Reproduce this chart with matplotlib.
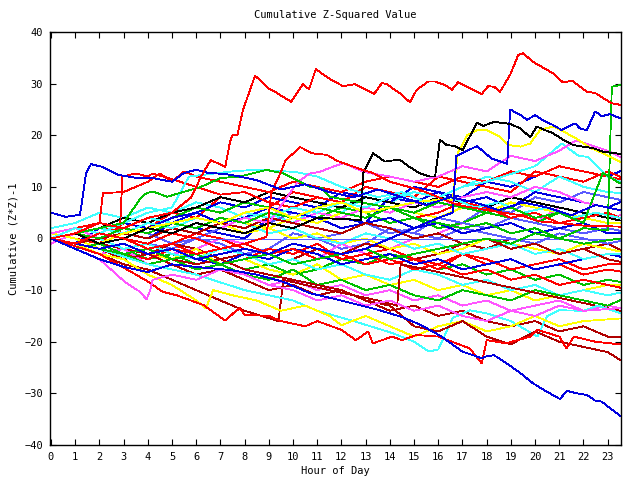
import matplotlib
matplotlib.use('Agg')
import matplotlib.pyplot as plt

# colours (gnuplot-ish palette)
RED = '#ff0000'
GREEN = '#00c000'
BLUE = '#0000e0'
MAGENTA = '#ff55ff'
CYAN = '#40ffff'
DRED = '#b00000'
YELLOW = '#ffff00'
BLACK = '#000000'
LBLUE = '#5a5aff'

# hourly grid used by the background walks
hours = list(range(24)) + [23.5]

# --- prominent walks (own time stamps) ---
red_top_x = [0, 1, 2, 3, 4, 5, 5.8, 6.2, 6.6, 7.2, 7.4, 7.5, 7.7, 7.93, 8.43, 8.64, 8.97, 9.26, 9.67, 9.92,
             10.41, 10.66, 10.94, 11.45, 12.07, 12.56, 12.89, 13.35, 13.67, 13.87, 14.42, 14.83, 15.11, 15.58,
             15.87, 16.28, 16.57, 16.82, 17.18, 17.52, 17.8, 18.06, 18.31, 18.55, 18.97, 19.3, 19.5, 19.92,
             20.41, 20.74, 21.16, 21.52, 22.14, 22.48, 22.81, 23.17, 23.51]
red_top_y = [0, 1, 3, 2, 4, 5, 8, 12, 15.2, 13.9, 18.8, 20, 20, 24.9, 31.5, 30.7, 29.1, 28.4, 27.2, 26.5,
             29.9, 28.9, 32.8, 31.1, 29.5, 29.9, 29.1, 28.0, 30.1, 29.9, 28.1, 26.4, 28.8, 30.4,
             30.4, 29.7, 28.8, 30.3, 29.4, 28.6, 28.0, 29.5, 29.4, 28.4, 31.7, 35.5, 35.9, 34.2,
             32.9, 32.0, 30.2, 30.6, 28.4, 28.2, 27.2, 26.2, 25.9]

blue_bottom_x = [0, 1, 2, 3, 4, 5, 6, 7.4, 8.5, 9.6, 10.7, 11.9, 13.5, 14.5, 15.3, 16.1, 17.0, 17.8, 18.0,
                 18.3, 18.8, 19.4, 19.9, 20.35, 21.03, 21.31, 21.72, 22.14, 22.48, 22.76, 23.1, 23.51]
blue_bottom_y = [0, -2, -4, -5.5, -6.5, -5, -5.5, -6.1, -7, -8.4, -10.6, -11.9, -13.8, -15.2, -16.8, -18.9,
                 -21.9, -23.2, -22.8, -22.6, -24.1, -26.1, -28.0, -29.3, -31.1, -29.5, -30.0, -30.3, -31.4,
                 -31.6, -32.9, -34.3]

blue_early_x = [0, 0.6, 1.2, 1.45, 1.65, 2.1, 2.8, 3.6, 4.2, 5, 5.5, 6, 6.5, 7.2, 7.8, 8.5, 9.5, 10.5, 11.5,
                12.5, 13.5, 14.5, 15.5, 16.5, 17.5, 18.5, 19.5, 20.5, 21.5, 22.5, 23.5]
blue_early_y = [5, 4.2, 4.6, 12.6, 14.4, 13.9, 12.3, 11.7, 11.7, 11, 12.7, 13.3, 12.7, 12.5, 12, 11.3, 9.5,
                10.5, 9, 8, 9.5, 8, 6.5, 8, 7, 5.5, 7, 6, 4.5, 6.5, 5.5]

red_second_x = [0, 1, 2, 3, 4, 5, 6, 7, 8, 8.9, 9.1, 9.5, 9.7, 10.3, 10.8, 11.4, 11.8, 12.2, 13.0, 13.3, 14,
                15.25, 16.8, 18.0, 19.4, 20.2, 21, 22, 23.5]
red_second_y = [0, -1, 1, 0, -2, -1, -3, -2, -1, 0.3, 8.8, 12.9, 15.2, 17.7, 16.5, 16.2, 15.1, 14.4, 13.1,
                12.7, 11, 9.4, 6.5, 5.5, 4.5, 3.3, 3, 2.5, 2.3]

black_top_x = [0, 1, 2, 3, 4, 5, 6, 7, 8, 9, 10, 11, 12.8, 12.9, 13.3, 13.8, 14.4, 14.8, 15.25, 15.66, 15.87,
               16.07, 16.35, 16.7, 17.0, 17.6, 17.86, 18.3, 18.97, 19.4, 19.8, 20.07, 20.4, 20.74, 21.16,
               21.57, 22.4, 22.81, 23.5]
black_top_y = [0, 1, -1, 0, 2, 1, 3, 2, 1, 3, 2, 4, 3.6, 12.6, 16.5, 14.9, 15.3, 13.9, 12.6, 12.0, 12.0,
               19.1, 18.1, 17.9, 17.1, 22.4, 21.8, 22.6, 22.2, 21.3, 19.6, 21.7, 21.0, 20.4, 19.1,
               18.1, 17.5, 16.8, 16.4]

blue_jump_x = [0, 1, 2, 3, 4, 5, 6, 7, 8, 9, 10, 11, 12, 13, 14, 15, 16, 16.6, 16.75, 17.6, 18.2, 18.85,
               18.97, 19.4, 19.67, 20.0, 20.35, 20.74, 21.1, 21.65, 21.86, 22.14, 22.48, 22.76, 23.1, 23.5]
blue_jump_y = [0, -1, -2, -1, -3, -2, -4, -3, -2, -3, -1, -2, -3, -2, 0, 2, 4, 5, 16, 17.9, 15.5, 14.5,
               25, 23.9, 23, 23.9, 22.8, 22, 21, 22.3, 21.3, 21, 24.6, 23.7, 24.1, 23.3]

yellow_up_x = [0, 1, 2, 3, 4, 5, 6, 7, 8, 9, 10, 11, 12, 13, 14, 15, 16, 16.6, 16.8, 17.2, 17.6, 18.0,
               18.55, 18.9, 19.4, 19.8, 20.2, 20.74, 21.3, 21.8, 22.3, 22.8, 23.5]
yellow_up_y = [0, 1, -1, 1, 2, 3, 4, 3, 5, 6, 4, 6, 7, 5, 6, 7, 7.5, 7.5, 16.5, 20, 21, 21,
               19.7, 18.1, 17.8, 18.4, 21, 21.7, 20.4, 19.1, 17.5, 16.5, 14.9]

green_end_x = hours[:23] + [23.0, 23.17, 23.5]
green_end_y = [0, -1, -2, -3, -2, -4, -3, -5, -4, -3, -5, -4, -3, -2, -4, -3, -2, -1, 0, -1, 1, 0, 2,
               1.6, 29.4, 29.7]

green_mid_x = [0, 1, 2, 3, 3.7, 3.95, 4.2, 4.8, 6.2, 7.0, 7.8, 8.9, 9.6, 10.7, 11.2, 11.5, 12.9, 14, 15,
               16, 17, 18, 19, 20, 21, 22, 23.5]
green_mid_y = [0, 1, 2, 3, 7.8, 8.8, 9.1, 8.1, 10, 11.7, 12, 13.3, 12.6, 10, 9.7, 8.1, 6.9, 6, 4, 3, 2, 3,
               1, 2, 0, -1, 0]

green_up2_x = hours[:23] + [22.8, 23.5]
green_up2_y = [0, 1, 0, 2, 1, 3, 2, 4, 3, 5, 4, 6, 5, 4, 6, 5, 7, 6, 5, 6, 4, 5, 3, 12.7, 10.7]

magenta_up_x = [0, 1, 2, 3, 4, 5, 6, 7, 8, 9, 10.2, 10.7, 11.1, 11.65, 12.1, 12.9, 14, 15, 16, 17, 18, 19,
                20, 21, 21.7, 23, 23.5]
magenta_up_y = [0, -1, 1, 0, 2, 1, 3, 2, 4, 3, 11, 12.6, 12.9, 13.9, 14.6, 12.9, 12, 11, 12, 14, 13, 16,
                15, 17, 19, 17, 15.8]

cyan_up_x = hours[:19] + [20, 21.1, 21.8, 22.2, 23, 23.5]
cyan_up_y = [0, 1, 2, 1, 3, 2, 4, 3, 5, 4, 6, 5, 7, 6, 8, 9, 8, 10, 11, 14, 18.4, 16, 15.8, 12, 11]

cyan_up2_x = [0, 1, 2, 3, 4, 5, 5.7, 7.5, 8.4, 10.1, 11, 12, 13.5, 14.5, 15.5, 16.5, 17.5, 18.5, 19.5,
              20.5, 21.5, 22.5, 23.5]
cyan_up2_y = [0, 2, 1, 3, 5, 6, 12, 13, 13.3, 12.9, 12, 10, 8, 9, 7, 8, 6, 7, 5, 6, 4, 5, 4]

red_a_x = [0, 1, 2, 2.85, 2.95, 3.5, 4, 4.2, 5, 6, 7, 8, 9, 10, 11, 12, 13, 14, 15, 16, 17, 18, 19, 20, 21,
           22, 23, 23.5]
red_a_y = [0, 1, 2, 1.5, 12, 12.6, 12, 12.6, 11.5, 10, 8.5, 9, 7, 6, 8, 7, 5, 6, 4, 5, 7, 6, 4, 5, 3, 4,
           5, 4]

red_b_x = [0, 1, 2, 2.15, 3, 4, 4.5, 5, 5.5, 6, 7, 8, 9, 10, 11, 12, 13, 14, 15, 16, 17, 18, 19, 20, 21, 22,
           23, 23.5]
red_b_y = [0, 2, 3, 8.8, 9, 11, 12.6, 11, 13, 12, 11, 10, 9, 11, 10, 9, 11, 12, 11, 10, 12, 11, 13, 12, 14,
           13, 12, 11.5]

magenta_low_x = [0, 1, 2, 3.05, 3.67, 3.95, 4.1, 4.2, 5, 6, 7, 8, 9, 10, 11, 12, 13, 14, 15, 16, 17, 18, 19,
                 20, 21, 22, 23.5]
magenta_low_y = [0, -2, -4, -8.4, -10.3, -11.8, -10, -8, -7, -8, -6, -7, -9, -10, -12, -11, -13, -12, -14,
                 -13, -15, -16, -14, -15, -13, -14, -13.5]

red_low_x = [0, 1, 2, 3.4, 4.1, 4.6, 5.2, 6.3, 7.2, 7.6, 7.8, 8, 9, 9.5, 10.5, 11, 12, 12.6, 13.1, 13.3,
             14.1, 14.5, 15.1, 16, 17.3, 17.8, 18.0, 18.8, 19.8, 20.1, 21, 21.3, 21.6, 22.5, 23.5]
red_low_y = [0, -1.5, -3, -6.7, -8.6, -10.3, -11, -12.9, -15.9, -14.2, -13.5, -14.8, -15, -16, -17, -16,
             -17.7, -19.7, -18, -20.3, -19, -19.7, -18.7, -19, -21.3, -24.2, -19.7, -20.3, -19, -17.7, -19,
             -21.3, -19, -20, -20.5]

dred_low_x = hours
dred_low_y = [0, -1, -2, -3, -2, -4, -5, -4, -6, -7, -8, -9, -10, -12, -13, -17, -18, -16, -19, -20.5, -18,
              -20, -21, -22, -23.5]

yellow_low_x = [0, 1, 2, 3, 4, 5, 6, 6.4, 6.7, 7.5, 8.5, 9.5, 10.5, 11.5, 12, 13, 14, 15, 16, 17, 18, 19,
                20, 21, 22, 23.5]
yellow_low_y = [0, -1, -3, -4, -7, -9, -12, -13.5, -10, -11, -12, -14, -13, -15, -16.8, -15, -17, -19, -17,
                -16, -18, -17, -15, -17, -16, -15.5]

cyan_low_x = [0, 2, 4, 6, 8, 10, 11, 12.5, 14.1, 15, 15.6, 16.0, 16.6, 17.3, 18, 19, 20.1, 20.5, 21.0, 22,
              22.6, 23.5]
cyan_low_y = [0, -2, -5, -7, -10, -12, -14, -16, -18.3, -20, -21.9, -21.5, -15.4, -13.9, -14.5, -16, -19,
              -15, -13.9, -14, -13, -14.4]

dred_jump_x = [0, 1, 2, 3, 4, 5, 6, 7, 8, 9.4, 9.6, 10.5, 11.5, 12.5, 13.5, 14.3, 14.45, 15.5, 16.5, 17.5,
               18.5, 19.5, 20.5, 21.5, 22.5, 23.5]
dred_jump_y = [0, -1, -3, -5, -6, -8, -10, -12, -14, -16, -8, -9, -10, -11, -12, -13, -5, -6, -7, -8, -9,
               -10, -11, -12, -13, -14]

zero_x = [6.2, 23.5]
zero_y = [0, 0]

# --- background walks on the hourly grid ---
b1 = [0, -1, 2, 1, 0, 3, 2, 1, 0, 4, 3, 5, 4, 3, 8, 7, 9, 8, 11, 10, 12, 14, 13, 12, 13]
b2 = [1, 0, -1, 3, 2, 5, 4, 8, 7, 6, 9, 8, 7, 10, 9, 8, 12, 11, 10, 9, 13, 12, 11, 13, 12]
b3 = [0, 2, 1, 0, -1, -2, 0, -1, -3, -2, 1, 0, -2, -1, 2, 1, 4, 3, 6, 5, 8, 7, 9, 8, 7.5]
b4 = [-1, 1, 0, -2, -1, -3, -2, 0, -1, -3, -2, -4, -1, -3, -2, 0, 1, 3, 2, 4, 3, 6, 5, 4, 4.5]
b5 = [2, 3, 5, 4, 6, 5, 7, 6, 4, 5, 3, 6, 5, 8, 7, 9, 8, 10, 12, 11, 9, 12, 10, 9, 8.8]
b6 = [0, -1, -3, -2, -4, -3, -5, -4, -6, -5, -7, -6, -4, -5, -3, -4, -6, -5, -7, -6, -8, -7, -9, -8, -8.4]
b7 = [0, 1, -1, -2, -3, -1, -2, -4, -3, -5, -4, -2, -3, -1, -2, -4, -3, -1, -2, 0, -1, -3, -2, -1, -2.2]
b8 = [1, 0, -2, -1, -3, -4, -2, -5, -4, -6, -7, -5, -8, -7, -9, -8, -10, -9, -11, -10, -12, -11, -10, -9, -9]
b9 = [0, -2, -1, -3, -4, -2, -3, -5, -4, -2, -3, -1, -4, -3, -5, -4, -6, -3, -5, -4, -6, -5, -7, -6, -6.4]
b10 = [0, 1, 3, 2, 4, 3, 5, 7, 6, 8, 7, 6, 9, 8, 7, 10, 9, 7, 8, 6, 9, 8, 7, 6, 7]
b11 = [0, -1, -3, -2, -5, -4, -6, -5, -7, -9, -8, -10, -9, -11, -10, -12, -11, -13, -12, -14, -13, -12, -14,
       -13, -13.5]
b12 = [0, 1, 0, 2, 1, -1, 0, 2, 1, 3, 2, 0, 1, 3, 2, 1, 0, 2, 1, 0, -1, 1, 0, -1, -0.5]
b13 = [0, 2, 1, 3, 2, 4, 6, 5, 7, 6, 5, 4, 6, 5, 3, 4, 2, 3, 5, 4, 3, 5, 4, 3, 3]
b14 = [0, -1, 0, -2, -1, -3, -4, -2, -3, -5, -4, -6, -5, -7, -8, -6, -7, -9, -8, -10, -9, -11, -10, -11, -10.5]
b15 = [0, 1, 2, 4, 3, 5, 6, 8, 7, 9, 8, 7, 6, 8, 7, 6, 8, 7, 6, 8, 7, 6, 5, 4, 3.5]
b16 = [0, 1, -1, 0, -2, -1, 1, 0, -2, -3, -1, -2, -4, -3, -2, -4, -5, -3, -4, -6, -5, -4, -6, -5, -5]
b17 = [0, -1, -2, -4, -3, -5, -7, -6, -8, -10, -9, -11, -10, -12, -14, -13, -15, -14, -16, -17, -16, -18,
       -17, -19, -19]
b18 = [0, 1, 2, 1, 3, 2, 4, 3, 1, 2, 0, 1, -1, 0, -2, -1, -3, -2, 0, -1, -2, -3, -1, -2, -2.5]
b19 = [0, -1, -2, -1, -3, -2, -4, -5, -3, -4, -2, -3, -5, -4, -3, -5, -4, -6, -5, -4, -6, -5, -4, -3, -3.5]
b20 = [1, 2, 0, 1, 3, 2, 1, 3, 2, 4, 3, 5, 4, 6, 5, 7, 6, 8, 9, 8, 10, 9, 7, 6, 5.5]
b21 = [0, -2, -1, -3, -5, -4, -6, -5, -7, -8, -6, -9, -8, -10, -9, -11, -12, -10, -11, -12, -10, -11, -12,
       -13, -12]
b22 = [0, 1, 3, 2, 4, 3, 2, 4, 3, 1, 2, 0, -1, 1, 0, -2, -1, -3, -2, -1, -3, -2, -4, -3, -3]
b23 = [0, -1, 1, 0, 2, 1, 3, 2, 4, 3, 5, 4, 2, 3, 1, 2, 4, 3, 2, 4, 3, 2, 1, 2, 1.5]
b24 = [0, 2, 1, 0, -1, 1, 0, -2, -1, -3, -2, -4, -3, -5, -4, -6, -5, -7, -6, -8, -7, -9, -8, -9, -9.5]
b25 = [0, 1, 2, 3, 2, 4, 5, 3, 4, 6, 5, 4, 2, 3, 4, 2, 3, 1, 2, 3, 1, 2, 3, 1, 1]
b26 = [0, 1, 0, 2, 1, 3, 2, 4, 3, 2, 4, 3, 5, 4, 6, 5, 4, 6, 5, 7, 6, 5, 4, 3, 3]
b27 = [0, -1, 0, 1, 0, 2, 1, 3, 2, 4, 3, 2, 1, 3, 2, 0, 1, -1, 0, -2, -1, -3, -2, -4, -4.5]

background = [
    (b1, BLUE), (b2, RED), (b3, LBLUE), (b4, MAGENTA), (b5, CYAN), (b6, GREEN), (b7, DRED),
    (b8, YELLOW), (b9, RED), (b10, BLUE), (b11, MAGENTA), (b12, LBLUE), (b13, GREEN), (b14, CYAN),
    (b15, BLACK), (b16, RED), (b17, DRED), (b18, YELLOW), (b19, BLUE), (b20, MAGENTA), (b21, GREEN),
    (b22, CYAN), (b23, LBLUE), (b24, RED), (b25, BLUE), (b26, YELLOW), (b27, DRED),
]

prominent = [
    (zero_x, zero_y, LBLUE),
    (dred_jump_x, dred_jump_y, DRED),
    (cyan_low_x, cyan_low_y, CYAN),
    (yellow_low_x, yellow_low_y, YELLOW),
    (dred_low_x, dred_low_y, DRED),
    (red_low_x, red_low_y, RED),
    (magenta_low_x, magenta_low_y, MAGENTA),
    (red_a_x, red_a_y, RED),
    (red_b_x, red_b_y, RED),
    (cyan_up2_x, cyan_up2_y, CYAN),
    (cyan_up_x, cyan_up_y, CYAN),
    (magenta_up_x, magenta_up_y, MAGENTA),
    (green_up2_x, green_up2_y, GREEN),
    (green_mid_x, green_mid_y, GREEN),
    (green_end_x, green_end_y, GREEN),
    (yellow_up_x, yellow_up_y, YELLOW),
    (blue_jump_x, blue_jump_y, BLUE),
    (black_top_x, black_top_y, BLACK),
    (red_second_x, red_second_y, RED),
    (blue_early_x, blue_early_y, BLUE),
    (blue_bottom_x, blue_bottom_y, BLUE),
    (red_top_x, red_top_y, RED),
]

plt.rcParams['font.family'] = 'DejaVu Sans Mono'
fig = plt.figure(figsize=(6.4, 4.8), dpi=100)
ax = fig.add_axes([50 / 640, 35 / 480, 571 / 640, 413 / 480])

for vals, col in background:
    ax.plot(hours, vals, color=col, lw=0.6, antialiased=False)
for xs, ys, col in prominent:
    ax.plot(xs, ys, color=col, lw=0.6, antialiased=False)

ax.set_xlim(-0.04, 23.55)
ax.set_ylim(-40, 40)
ax.set_xticks(range(24))
ax.set_yticks(range(-40, 41, 10))
ax.tick_params(direction='in', length=4, width=0.8, top=True, right=True, labelsize=7.5, pad=5)
for s in ax.spines.values():
    s.set_linewidth(1.0)

ax.set_title('Cumulative Z-Squared Value', fontsize=7.5, pad=10)
ax.set_xlabel('Hour of Day', fontsize=7.5, labelpad=3)
ax.set_ylabel('Cumulative (Z*Z)-1', fontsize=7.5, labelpad=4)

fig.savefig('out.png', dpi=100)
